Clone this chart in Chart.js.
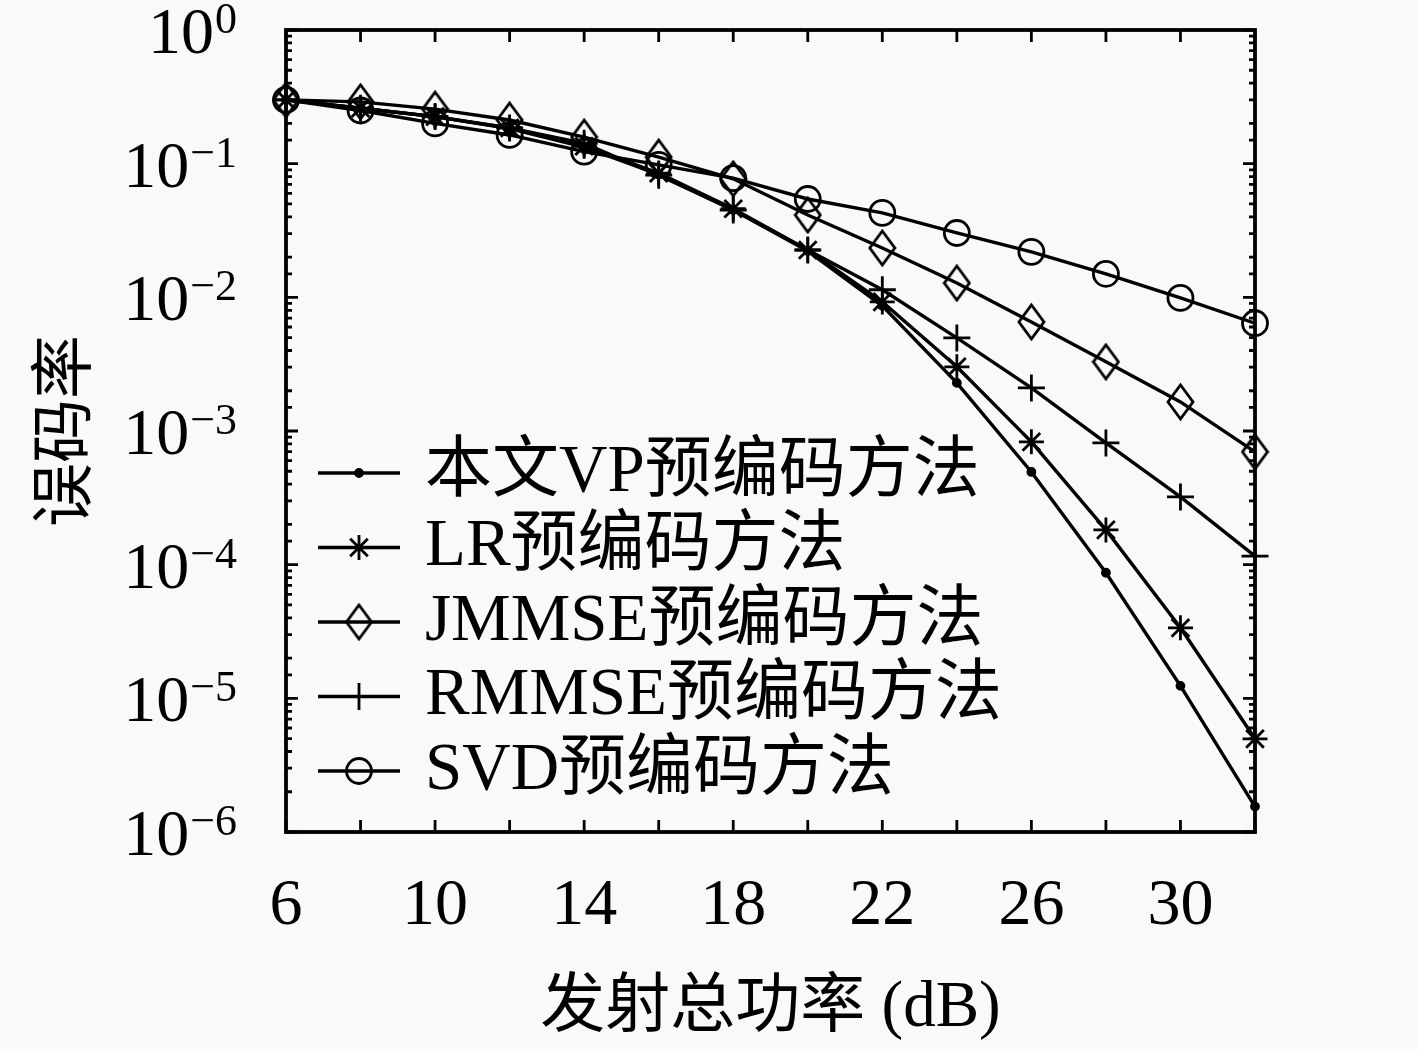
<!DOCTYPE html>
<html>
<head>
<meta charset="utf-8">
<script src="https://cdn.jsdelivr.net/npm/chart.js@4.4.1/dist/chart.umd.min.js"></script>
<style>
  html, body { margin: 0; padding: 0; background: #f9f9f9; }
  #wrap { width: 1417px; height: 1051px; position: relative; }
</style>
</head>
<body>
<div id="wrap"><canvas id="berChart"></canvas></div>
<script>
/* ── Data ─────────────────────────────────────────────────────────────── */
const snr        = [6, 8, 10, 12, 14, 16, 18, 20, 22, 24, 26, 28, 30, 32];
const berVP      = [0.30, 0.26, 0.225, 0.183, 0.133, 0.083, 0.045, 0.0222, 0.00863, 0.00229, 0.000494, 8.7e-5, 1.24e-5, 1.55e-6];
const berLR      = [0.30, 0.26, 0.225, 0.185, 0.135, 0.085, 0.046, 0.0226, 0.00924, 0.00302, 0.00083, 0.000182, 3.37e-5, 4.98e-6];
const berJMMSE   = [0.30, 0.29, 0.256, 0.212, 0.158, 0.112, 0.077, 0.0413, 0.0234, 0.0128, 0.00655, 0.00329, 0.00165, 0.000698];
const berRMMSE   = [0.30, 0.26, 0.225, 0.185, 0.142, 0.082, 0.045, 0.0226, 0.0114, 0.00497, 0.0021, 0.000815, 0.000321, 0.000116];
const berSVD     = [0.30, 0.25, 0.20, 0.164, 0.123, 0.098, 0.078, 0.0544, 0.0428, 0.0303, 0.0219, 0.0150, 0.0099, 0.0064];

const seriesNames = ['本文VP预编码方法', 'LR预编码方法', 'JMMSE预编码方法', 'RMMSE预编码方法', 'SVD预编码方法'];
const xTickLabels = [6, 10, 14, 18, 22, 26, 30];
const yExponents  = [0, -1, -2, -3, -4, -5, -6];
const xTitle      = '发射总功率 (dB)';
const yTitle      = '误码率';

const SERIF = '"Liberation Serif", "Noto Sans CJK SC", serif';
const INK   = '#000';

/* ── Tall open diamond (MATLAB style) ─────────────────────────────────── */
function makeDiamond(w, h, lw) {
  const c = document.createElement('canvas');
  c.width = w + 4; c.height = h + 4;
  const g = c.getContext('2d');
  g.strokeStyle = INK; g.lineWidth = lw; g.lineJoin = 'miter';
  g.beginPath();
  g.moveTo(c.width / 2, 2);
  g.lineTo(c.width - 2, c.height / 2);
  g.lineTo(c.width / 2, c.height - 2);
  g.lineTo(2, c.height / 2);
  g.closePath();
  g.stroke();
  return c;
}
const diamond = makeDiamond(25, 34, 2.8);

const pts = arr => snr.map((x, i) => ({ x, y: arr[i] }));

function series(label, data, style, radius, fillPt) {
  return {
    label, data: pts(data),
    borderColor: INK, borderWidth: 3.4,
    pointStyle: style, pointRadius: radius, pointHoverRadius: radius,
    pointBorderColor: INK, pointBorderWidth: 2.8,
    pointBackgroundColor: fillPt ? INK : 'rgba(0,0,0,0)',
    fill: false, tension: 0, clip: false,
  };
}

const datasets = [
  series(seriesNames[0], berVP,    'circle', 3.5, true),
  series(seriesNames[1], berLR,    'star',   12.5, false),
  series(seriesNames[2], berJMMSE, diamond,  17,  false),
  series(seriesNames[3], berRMMSE, 'cross',  13.5, false),
  series(seriesNames[4], berSVD,   'circle', 12.5, false),
];

/* ── Box, inward ticks, y labels with superscripts, legend ───────────── */
const framePlugin = {
  id: 'frame',
  afterDraw(chart) {
    const { ctx, chartArea: a, scales: { x, y } } = chart;
    ctx.save();
    ctx.strokeStyle = INK;
    ctx.fillStyle = INK;

    // ticks along x (bottom and top)
    ctx.lineWidth = 2.8;
    x.ticks.forEach(t => {
      const px = x.getPixelForValue(t.value);
      ctx.beginPath();
      ctx.moveTo(px, a.bottom); ctx.lineTo(px, a.bottom - 12);
      ctx.moveTo(px, a.top);    ctx.lineTo(px, a.top + 12);
      ctx.stroke();
    });

    // ticks along y (left and right), minor ticks shorter
    y.ticks.forEach(t => {
      const e = Math.log10(t.value);
      const major = Math.abs(e - Math.round(e)) < 1e-9;
      const len = major ? 12 : 6;
      const py = y.getPixelForValue(t.value);
      ctx.beginPath();
      ctx.moveTo(a.left, py);  ctx.lineTo(a.left + len, py);
      ctx.moveTo(a.right, py); ctx.lineTo(a.right - len, py);
      ctx.stroke();
    });

    // box
    ctx.lineWidth = 3.8;
    ctx.strokeRect(a.left, a.top, a.right - a.left, a.bottom - a.top);

    // y tick labels 10^n
    const baseFont = '66px ' + SERIF;
    const expFont  = '44px ' + SERIF;
    const rightEdge = 237;
    ctx.textBaseline = 'alphabetic';
    yExponents.forEach(e => {
      const py = y.getPixelForValue(Math.pow(10, e));
      const expText = e === 0 ? '0' : '\u2212' + Math.abs(e);
      ctx.font = expFont;
      const ew = ctx.measureText(expText).width;
      ctx.textAlign = 'left';
      ctx.fillText(expText, rightEdge - ew, py + 3);
      ctx.font = baseFont;
      ctx.textAlign = 'right';
      ctx.fillText('10', rightEdge - ew - 1, py + 23);
    });

    // legend (no frame), line sample with marker in the middle
    const lx0 = 318, lx1 = 400, tx = 425, ly0 = 473, dy = 74.5;
    chart.data.datasets.forEach((ds, i) => {
      const ly = ly0 + i * dy;
      ctx.lineWidth = ds.borderWidth;
      ctx.strokeStyle = ds.borderColor;
      ctx.beginPath();
      ctx.moveTo(lx0, ly); ctx.lineTo(lx1, ly);
      ctx.stroke();
      ctx.lineWidth = ds.pointBorderWidth;
      ctx.fillStyle = ds.pointBackgroundColor;
      Chart.helpers.drawPoint(ctx, {
        pointStyle: ds.pointStyle, radius: ds.pointRadius,
        rotation: 0, borderWidth: ds.pointBorderWidth,
      }, (lx0 + lx1) / 2, ly);
      ctx.fillStyle = INK;
      ctx.font = '67px ' + SERIF;
      ctx.textAlign = 'left';
      ctx.textBaseline = 'middle';
      ctx.fillText(ds.label, tx, ly);
    });
    ctx.restore();
  }
};

Chart.defaults.font.family = SERIF;
Chart.defaults.color = INK;

new Chart(document.getElementById('berChart'), {
  type: 'line',
  data: { datasets },
  plugins: [framePlugin],
  options: {
    responsive: true,
    maintainAspectRatio: false,
    animation: false,
    devicePixelRatio: 1,
    layout: { padding: { left: 0, right: 162, top: 30, bottom: 0 } },
    plugins: { legend: { display: false }, tooltip: { enabled: false } },
    scales: {
      x: {
        type: 'linear', min: 6, max: 32, offset: false,
        grid: { display: false, drawTicks: false },
        border: { display: false },
        ticks: {
          stepSize: 2, autoSkip: false, maxRotation: 0, padding: 35,
          font: { size: 66 }, color: INK,
          callback: v => xTickLabels.includes(v) ? String(v) : '',
        },
        title: {
          display: true, text: xTitle, color: INK,
          font: { size: 65 }, padding: { top: 0, bottom: 3 },
        },
        afterFit: s => { s.height = 219; },
      },
      y: {
        type: 'logarithmic', min: 1e-6, max: 1,
        grid: { display: false, drawTicks: false },
        border: { display: false },
        ticks: { display: false },
        title: {
          display: true, text: yTitle, color: INK,
          font: { size: 64 }, padding: { top: 30, bottom: 0 },
        },
        afterFit: s => { s.width = 286; },
      },
    },
  },
});
</script>
</body>
</html>
